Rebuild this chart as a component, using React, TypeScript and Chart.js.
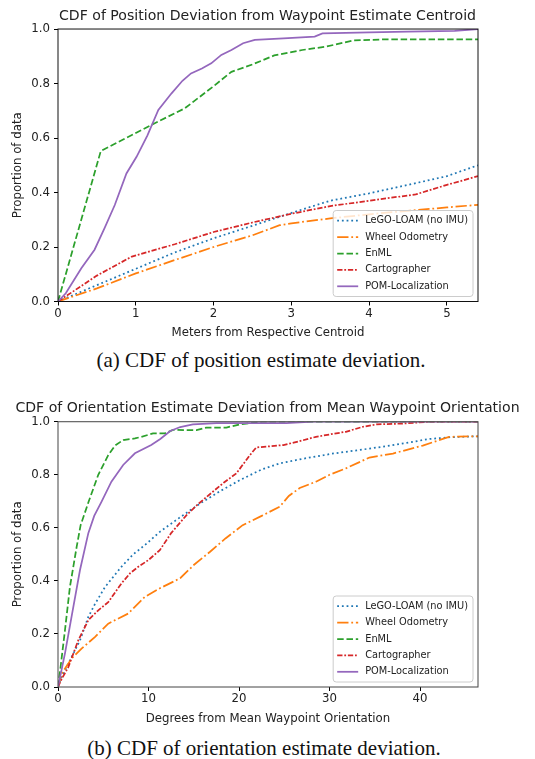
import React, { useEffect, useRef } from "react";
import { Chart, registerables } from "chart.js";

Chart.register(...registerables);

const FONT = '"DejaVu Sans", sans-serif';

// ---------------- data ----------------
const seriesNames = ["LeGO-LOAM (no IMU)", "Wheel Odometry", "EnML", "Cartographer", "POM-Localization"];

// (a) position deviation, meters
const posLegoX = [0, 0.5, 1.0, 1.5, 2.0, 2.5, 3.0, 3.5, 4.0, 4.5, 5.0, 5.4];
const posLegoY = [0, 0.06, 0.12, 0.18, 0.232, 0.278, 0.325, 0.37, 0.397, 0.428, 0.46, 0.5];
const posWheelX = [0, 0.5, 1.0, 1.5, 2.0, 2.5, 2.85, 3.0, 3.5, 4.0, 4.5, 5.0, 5.4];
const posWheelY = [0, 0.048, 0.103, 0.152, 0.2, 0.243, 0.28, 0.287, 0.305, 0.32, 0.333, 0.345, 0.355];
const posEnmlX = [0, 0.55, 1.2, 1.63, 2.0, 2.23, 2.5, 2.78, 3.14, 3.44, 3.8, 4.2, 5.4];
const posEnmlY = [0, 0.552, 0.648, 0.709, 0.79, 0.843, 0.87, 0.903, 0.923, 0.935, 0.958, 0.962, 0.962];
const posCartoX = [0, 0.5, 0.95, 1.5, 2.0, 2.5, 3.0, 3.5, 4.0, 4.6, 5.0, 5.4];
const posCartoY = [0, 0.095, 0.165, 0.21, 0.255, 0.29, 0.322, 0.35, 0.37, 0.393, 0.428, 0.46];
const posPomX = [0, 0.1, 0.3, 0.47, 0.6, 0.73, 0.88, 1.01, 1.15, 1.29, 1.46, 1.6, 1.71, 1.85, 1.97, 2.1, 2.23, 2.38, 2.53, 2.9, 3.3, 3.4, 4.0, 4.5, 5.1, 5.4];
const posPomY = [0, 0.03, 0.122, 0.19, 0.27, 0.354, 0.47, 0.531, 0.61, 0.703, 0.764, 0.81, 0.837, 0.855, 0.874, 0.905, 0.923, 0.948, 0.96, 0.966, 0.972, 0.984, 0.988, 0.99, 0.993, 1.0];

// (b) orientation deviation, degrees
const oriLegoX = [0, 0.4, 1.14, 2.43, 3.35, 4.1, 5.2, 7.0, 8.3, 9.6, 11.25, 13.5, 15.7, 18.0, 20.1, 22.5, 24.5, 27.0, 30.2, 33.0, 35.9, 38.5, 41, 43.5, 46.4];
const oriLegoY = [0, 0.038, 0.088, 0.176, 0.264, 0.314, 0.377, 0.453, 0.5, 0.535, 0.585, 0.64, 0.692, 0.74, 0.78, 0.82, 0.843, 0.86, 0.879, 0.892, 0.906, 0.92, 0.935, 0.942, 0.945];
const oriWheelX = [0, 0.4, 1.5, 2.6, 4.1, 5.55, 6.3, 7.76, 9.6, 11.25, 13.5, 15.0, 16.8, 18.5, 20.4, 22.5, 24.5, 25.5, 26.7, 28.5, 30.0, 31.8, 34.4, 37, 40.3, 43.2, 46.4];
const oriWheelY = [0, 0.05, 0.107, 0.145, 0.189, 0.239, 0.252, 0.277, 0.34, 0.372, 0.41, 0.46, 0.51, 0.56, 0.61, 0.645, 0.68, 0.72, 0.75, 0.774, 0.8, 0.824, 0.865, 0.88, 0.91, 0.943, 0.945];
const oriEnmlX = [0, 0.3, 0.77, 1.32, 2.06, 2.5, 3.4, 4.45, 5.55, 6.3, 7.2, 8.5, 9.2, 10.5, 11.8, 12.7, 15.3, 16.4, 18.6, 20.1, 22.6, 46.4];
const oriEnmlY = [0, 0.08, 0.214, 0.378, 0.528, 0.61, 0.7, 0.8, 0.874, 0.91, 0.931, 0.937, 0.943, 0.956, 0.956, 0.969, 0.968, 0.978, 0.978, 0.99, 1.0, 1.0];
const oriCartoX = [0, 0.4, 1.14, 2.24, 3.35, 4.45, 5.55, 7.0, 8.0, 8.86, 9.97, 11.25, 12.5, 14.2, 15.5, 17.1, 18.3, 19.7, 21.2, 21.9, 24.9, 26.5, 28.5, 30.5, 31.8, 33.7, 35.2, 38, 41, 46.4];
const oriCartoY = [0, 0.03, 0.075, 0.176, 0.252, 0.289, 0.32, 0.39, 0.43, 0.453, 0.478, 0.516, 0.58, 0.648, 0.69, 0.736, 0.77, 0.805, 0.874, 0.903, 0.912, 0.925, 0.943, 0.955, 0.962, 0.981, 0.99, 0.993, 1.0, 1.0];
const oriPomX = [0, 0.77, 1.5, 2.43, 3.35, 4.0, 4.8, 5.9, 7.2, 8.5, 10.3, 11.3, 12.4, 13.5, 14.9, 17.5, 25.2, 28.2, 46.4];
const oriPomY = [0, 0.127, 0.265, 0.441, 0.58, 0.645, 0.698, 0.774, 0.837, 0.881, 0.912, 0.935, 0.965, 0.98, 0.99, 0.995, 0.995, 1.0, 1.0];

// axes
const yTicks = [0, 0.2, 0.4, 0.6, 0.8, 1.0];
const yTickLabels = ["0.0", "0.2", "0.4", "0.6", "0.8", "1.0"];
const posXTicks = [0, 1, 2, 3, 4, 5];
const posXTickLabels = ["0", "1", "2", "3", "4", "5"];
const oriXTicks = [0, 10, 20, 30, 40];
const oriXTickLabels = ["0", "10", "20", "30", "40"];
const posXMax = 5.4;
const oriXMax = 46.4;

const posTitle = "CDF of Position Deviation from Waypoint Estimate Centroid";
const oriTitle = "CDF of Orientation Estimate Deviation from Mean Waypoint Orientation";
const posXLabel = "Meters from Respective Centroid";
const oriXLabel = "Degrees from Mean Waypoint Orientation";
const yLabel = "Proportion of data";
const posCaption = "(a) CDF of position estimate deviation.";
const oriCaption = "(b) CDF of orientation estimate deviation.";

// ---------------- styles ----------------
const seriesColors = ["#1f77b4", "#ff7f0e", "#2ca02c", "#d62728", "#9467bd"];
const seriesDash = [[1.8, 2.9], [11.3, 2.8, 1.8, 2.8], [6.5, 2.8], [5.3, 1.8, 1.8, 1.8], []];
const LINE_W = 1.75;
const TEXT_COLOR = "#222";

const framePlugin = {
  id: "frame",
  afterDatasetsDraw(chart: any, _a: any, opts: any) {
    const { ctx, chartArea: a } = chart;
    ctx.save();
    ctx.strokeStyle = opts.color;
    ctx.lineWidth = opts.width;
    ctx.strokeRect(a.left, a.top, a.right - a.left, a.bottom - a.top);
    ctx.restore();
  },
};

const legendPlugin = {
  id: "boxLegend",
  afterDatasetsDraw(chart: any, _a: any, opts: any) {
    const { ctx, chartArea: a } = chart;
    const ds = chart.data.datasets;
    ctx.save();
    ctx.font = `${opts.fontSize}px ${FONT}`;
    const maxW = Math.max(...ds.map((d: any) => ctx.measureText(d.label).width));
    const w = opts.textX + maxW + opts.padRight;
    const h = opts.rowH * ds.length + opts.padY * 2;
    const right = a.right - opts.margin;
    const bottom = a.bottom - opts.margin;
    const left = right - w;
    const top = bottom - h;
    ctx.beginPath();
    ctx.roundRect(left, top, w, h, 3);
    ctx.fillStyle = "rgba(255,255,255,0.8)";
    ctx.fill();
    ctx.strokeStyle = "#cccccc";
    ctx.lineWidth = 1;
    ctx.stroke();
    ds.forEach((d: any, i: number) => {
      const cy = top + opts.padY + opts.rowH * (i + 0.5);
      ctx.beginPath();
      ctx.setLineDash(d.borderDash || []);
      ctx.strokeStyle = d.borderColor;
      ctx.lineWidth = d.borderWidth;
      ctx.moveTo(left + opts.lineX0, cy);
      ctx.lineTo(left + opts.lineX1, cy);
      ctx.stroke();
      ctx.setLineDash([]);
      ctx.fillStyle = TEXT_COLOR;
      ctx.textBaseline = "middle";
      ctx.textAlign = "left";
      ctx.fillText(d.label, left + opts.textX, cy);
    });
    ctx.restore();
  },
};

type Cfg = {
  xs: number[][];
  ys: number[][];
  xMax: number;
  xTicks: number[];
  xTickLabels: string[];
  title: string;
  xLabel: string;
  titlePadTop: number;
  titlePadBottom: number;
  xAxisH: number;
  xTitlePad: number;
  frameColor: string;
};

function makeConfig(c: Cfg): any {
  const datasets = c.xs.map((xArr, i) => ({
    label: seriesNames[i],
    data: xArr.map((x, j) => ({ x, y: c.ys[i][j] })),
    borderColor: seriesColors[i],
    backgroundColor: seriesColors[i],
    borderDash: seriesDash[i],
    borderWidth: LINE_W,
    pointRadius: 0,
    tension: 0,
    fill: false,
    order: c.xs.length - i,
  }));
  const tickFont = { family: FONT, size: 11.76 };
  return {
    type: "line",
    data: { datasets },
    plugins: [framePlugin, legendPlugin],
    options: {
      animation: false,
      responsive: false,
      events: [],
      layout: { padding: 0 },
      scales: {
        x: {
          type: "linear",
          min: 0,
          max: c.xMax,
          afterBuildTicks: (s: any) => {
            s.ticks = c.xTicks.map((v) => ({ value: v }));
          },
          afterFit: (s: any) => {
            s.height = c.xAxisH;
          },
          ticks: {
            callback: (_v: any, idx: number) => c.xTickLabels[idx],
            font: tickFont,
            color: TEXT_COLOR,
            padding: 1,
            maxRotation: 0,
            autoSkip: false,
          },
          grid: { display: true, drawOnChartArea: false, drawTicks: true, tickLength: 4, color: "#000", lineWidth: 1 },
          border: { display: false },
          title: { display: true, text: c.xLabel, font: tickFont, color: TEXT_COLOR, padding: { top: 0, bottom: c.xTitlePad } },
        },
        y: {
          type: "linear",
          min: 0,
          max: 1,
          afterBuildTicks: (s: any) => {
            s.ticks = yTicks.map((v) => ({ value: v }));
          },
          afterFit: (s: any) => {
            s.width = 58;
          },
          ticks: {
            callback: (_v: any, idx: number) => yTickLabels[idx],
            font: tickFont,
            color: TEXT_COLOR,
            padding: 4,
            autoSkip: false,
          },
          grid: { display: true, drawOnChartArea: false, drawTicks: true, tickLength: 4, color: "#000", lineWidth: 1 },
          border: { display: false },
          title: { display: true, text: yLabel, font: tickFont, color: TEXT_COLOR, padding: { top: 11, bottom: 0 } },
        },
        rightGap: {
          type: "linear",
          position: "right",
          display: true,
          min: 0,
          max: 1,
          afterFit: (s: any) => {
            s.width = 57;
          },
          ticks: { display: false },
          grid: { display: false, drawTicks: false },
          border: { display: false },
        },
      },
      plugins: {
        legend: { display: false },
        tooltip: { enabled: false },
        title: {
          display: true,
          text: c.title,
          font: { family: FONT, size: 14.1, weight: "normal" },
          color: TEXT_COLOR,
          padding: { top: c.titlePadTop, bottom: c.titlePadBottom },
        },
        frame: { color: c.frameColor, width: 1 },
        boxLegend: { fontSize: 9.8, rowH: 16.4, padY: 2, margin: 5, lineX0: 4, lineX1: 25, textX: 32, padRight: 5 },
      },
    },
  };
}

function ChartCanvas({ cfg, width, height, top }: { cfg: Cfg; width: number; height: number; top: number }) {
  const ref = useRef<HTMLCanvasElement | null>(null);
  useEffect(() => {
    if (!ref.current) return;
    const chart = new Chart(ref.current, makeConfig(cfg));
    return () => chart.destroy();
  }, []);
  return (
    <canvas
      ref={ref}
      width={width}
      height={height}
      style={{ position: "absolute", left: 0, top, width, height }}
    />
  );
}

const captionStyle: React.CSSProperties = {
  position: "absolute",
  fontFamily: '"Liberation Serif", "Times New Roman", serif',
  fontSize: 21,
  lineHeight: "25.2px",
  textAlign: "center",
  color: "#111",
  whiteSpace: "nowrap",
};

export default function App() {
  const posCfg: Cfg = {
    xs: [posLegoX, posWheelX, posEnmlX, posCartoX, posPomX],
    ys: [posLegoY, posWheelY, posEnmlY, posCartoY, posPomY],
    xMax: posXMax,
    xTicks: posXTicks,
    xTickLabels: posXTickLabels,
    title: posTitle,
    xLabel: posXLabel,
    titlePadTop: 7.6,
    titlePadBottom: 4.5,
    xAxisH: 43.5,
    xTitlePad: 5.3,
    frameColor: "#111",
  };
  const oriCfg: Cfg = {
    xs: [oriLegoX, oriWheelX, oriEnmlX, oriCartoX, oriPomX],
    ys: [oriLegoY, oriWheelY, oriEnmlY, oriCartoY, oriPomY],
    xMax: oriXMax,
    xTicks: oriXTicks,
    xTickLabels: oriXTickLabels,
    title: oriTitle,
    xLabel: oriXLabel,
    titlePadTop: 9.9,
    titlePadBottom: 4.9,
    xAxisH: 43,
    xTitlePad: 4.3,
    frameColor: "#444",
  };
  return (
    <div style={{ position: "fixed", left: 0, top: 0, width: 535, height: 759, background: "#fff", overflow: "hidden" }}>
      <ChartCanvas cfg={posCfg} width={535} height={345} top={0} />
      <div style={{ ...captionStyle, left: 0, width: 522, top: 348 }}>{posCaption}</div>
      <ChartCanvas cfg={oriCfg} width={535} height={340} top={390} />
      <div style={{ ...captionStyle, left: 0, width: 528, top: 736 }}>{oriCaption}</div>
    </div>
  );
}
